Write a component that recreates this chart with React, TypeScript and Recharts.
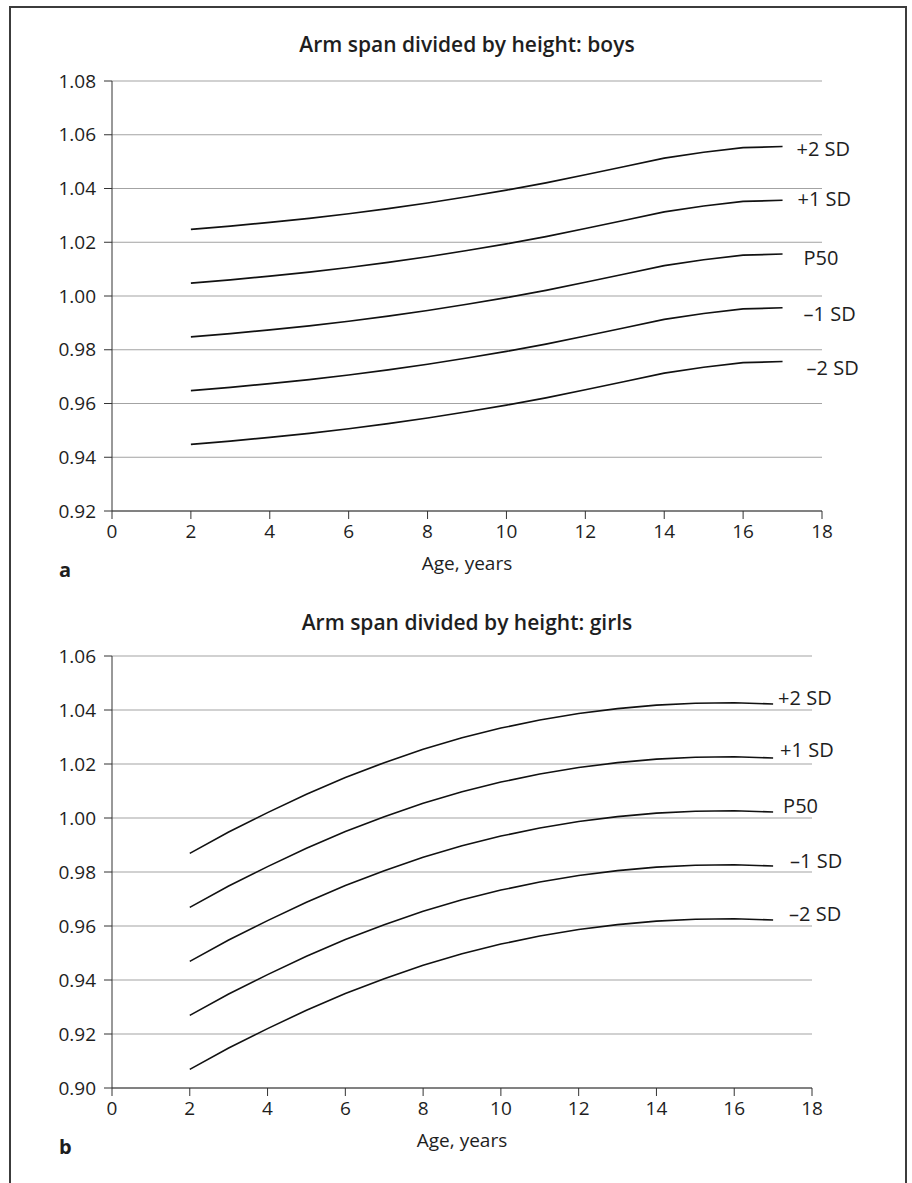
import React from 'react';
import { LineChart, Line, XAxis, YAxis, CartesianGrid } from 'recharts';

const ages = [2, 3, 4, 5, 6, 7, 8, 9, 10, 11, 12, 13, 14, 15, 16, 17];
const xTicks = [0, 2, 4, 6, 8, 10, 12, 14, 16, 18];
const boysYTicks = [0.92, 0.94, 0.96, 0.98, 1.0, 1.02, 1.04, 1.06, 1.08];
const girlsYTicks = [0.9, 0.92, 0.94, 0.96, 0.98, 1.0, 1.02, 1.04, 1.06];
const seriesKeys = ['p2', 'p1', 'p50', 'm1', 'm2'];
const seriesLabels = ['+2 SD', '+1 SD', 'P50', '–1 SD', '–2 SD'];

const boysPlus2 = [1.0248, 1.026, 1.0274, 1.0289, 1.0306, 1.0325, 1.0346, 1.0369, 1.0394, 1.0421, 1.0451, 1.0482, 1.0513, 1.0535, 1.0552, 1.0556];
const boysPlus1 = [1.0048, 1.006, 1.0074, 1.0089, 1.0106, 1.0125, 1.0146, 1.0169, 1.0194, 1.0221, 1.0251, 1.0282, 1.0313, 1.0335, 1.0352, 1.0356];
const boysP50 = [0.9848, 0.986, 0.9874, 0.9889, 0.9906, 0.9925, 0.9946, 0.9969, 0.9994, 1.0021, 1.0051, 1.0082, 1.0113, 1.0135, 1.0152, 1.0156];
const boysMinus1 = [0.9648, 0.966, 0.9674, 0.9689, 0.9706, 0.9725, 0.9746, 0.9769, 0.9794, 0.9821, 0.9851, 0.9882, 0.9913, 0.9935, 0.9952, 0.9956];
const boysMinus2 = [0.9448, 0.946, 0.9474, 0.9489, 0.9506, 0.9525, 0.9546, 0.9569, 0.9594, 0.9621, 0.9651, 0.9682, 0.9713, 0.9735, 0.9752, 0.9756];

const girlsPlus2 = [0.9869, 0.9948, 1.002, 1.0088, 1.015, 1.0205, 1.0255, 1.0297, 1.0333, 1.0363, 1.0387, 1.0405, 1.0418, 1.0425, 1.0427, 1.0422];
const girlsPlus1 = [0.9669, 0.9748, 0.982, 0.9888, 0.995, 1.0005, 1.0055, 1.0097, 1.0133, 1.0163, 1.0187, 1.0205, 1.0218, 1.0225, 1.0227, 1.0222];
const girlsP50 = [0.9469, 0.9548, 0.962, 0.9688, 0.975, 0.9805, 0.9855, 0.9897, 0.9933, 0.9963, 0.9987, 1.0005, 1.0018, 1.0025, 1.0027, 1.0022];
const girlsMinus1 = [0.9269, 0.9348, 0.942, 0.9488, 0.955, 0.9605, 0.9655, 0.9697, 0.9733, 0.9763, 0.9787, 0.9805, 0.9818, 0.9825, 0.9827, 0.9822];
const girlsMinus2 = [0.9069, 0.9148, 0.922, 0.9288, 0.935, 0.9405, 0.9455, 0.9497, 0.9533, 0.9563, 0.9587, 0.9605, 0.9618, 0.9625, 0.9627, 0.9622];

const buildData = (cols: number[][]) =>
  ages.map((age, i) => {
    const row: Record<string, number> = { age };
    seriesKeys.forEach((k, j) => {
      row[k] = cols[j][i];
    });
    return row;
  });

const boysData = buildData([boysPlus2, boysPlus1, boysP50, boysMinus1, boysMinus2]);
const girlsData = buildData([girlsPlus2, girlsPlus1, girlsP50, girlsMinus1, girlsMinus2]);

const FONT = "'Open Sans', 'Noto Sans', sans-serif";
const TEXT = '#1e1e1e';
const TICK_SIZE = 19;

const boysLabelOffsets = [[14, 2], [15, -1.5], [21, 3], [21, 5.7], [24, 6]];
const girlsLabelOffsets = [[5, -6.6], [7, -9], [10, -7], [17, -6], [16, -7]];

const makeEndLabel = (text: string, dx: number, dy: number) => (props: any) => {
  const { x, y, index } = props;
  if (index !== ages.length - 1) return <g />;
  return (
    <text x={x + dx} y={y + dy} fill={TEXT} fontSize={20} fontFamily={FONT} textAnchor="start" dominantBaseline="central">
      {text}
    </text>
  );
};

type PanelProps = {
  data: Record<string, number>[];
  top: number;
  height: number;
  margin: { top: number; right: number; bottom: number; left: number };
  yDomain: [number, number];
  yTicks: number[];
  offsets: number[][];
};

const Panel = ({ data, top, height, margin, yDomain, yTicks, offsets }: PanelProps) => (
  <div style={{ position: 'absolute', left: 0, top, width: 912, height }}>
    <LineChart width={912} height={height} data={data} margin={margin}>
      <CartesianGrid horizontal vertical={false} stroke="#a3a3a3" strokeWidth={1} />
      <XAxis
        dataKey="age"
        type="number"
        domain={[0, 18]}
        ticks={xTicks}
        interval={0}
        height={30}
        tickSize={8}
        tickMargin={6}
        axisLine={{ stroke: '#333' }}
        tickLine={{ stroke: '#333' }}
        tick={{ fill: TEXT, fontSize: TICK_SIZE, fontFamily: FONT }}
        label={{ value: 'Age, years', position: 'bottom', offset: 16, fill: TEXT, fontSize: TICK_SIZE, fontFamily: FONT }}
      />
      <YAxis
        type="number"
        domain={yDomain}
        ticks={yTicks}
        interval={0}
        width={60}
        tickSize={8}
        tickMargin={8}
        allowDataOverflow
        axisLine={{ stroke: '#333' }}
        tickLine={{ stroke: '#333' }}
        tick={{ fill: TEXT, fontSize: TICK_SIZE, fontFamily: FONT }}
        tickFormatter={(v: number) => v.toFixed(2)}
      />
      {seriesKeys.map((k, j) => (
        <Line
          key={k}
          dataKey={k}
          type="linear"
          stroke="#111"
          strokeWidth={1.6}
          dot={false}
          activeDot={false}
          isAnimationActive={false}
          label={makeEndLabel(seriesLabels[j], offsets[j][0], offsets[j][1])}
        />
      ))}
    </LineChart>
  </div>
);

const titleStyle = (top: number): React.CSSProperties => ({
  position: 'absolute',
  left: 0,
  width: 934,
  top,
  textAlign: 'center',
  fontFamily: FONT,
  fontWeight: 600,
  fontSize: 21,
  color: TEXT,
  lineHeight: '26px',
});

const letterStyle = (top: number): React.CSSProperties => ({
  position: 'absolute',
  left: 59,
  top,
  fontFamily: FONT,
  fontWeight: 700,
  fontSize: 20,
  color: TEXT,
  lineHeight: '24px',
});

export default function App() {
  return (
    <div style={{ position: 'absolute', left: 0, top: 0, width: 912, height: 1183, background: '#fff', overflow: 'hidden' }}>
      <div
        style={{
          position: 'absolute',
          left: 9,
          top: 6,
          width: 894,
          height: 1250,
          borderTop: '2px solid #3c3c3c',
          borderLeft: '2px solid #3c3c3c',
          borderRight: '2px solid #3c3c3c',
        }}
      />
      <div style={titleStyle(31)}>Arm span divided by height: boys</div>
      <Panel
        data={boysData}
        top={0}
        height={590}
        margin={{ top: 81, right: 90, bottom: 49, left: 52 }}
        yDomain={[0.92, 1.08]}
        yTicks={boysYTicks}
        offsets={boysLabelOffsets}
      />
      <div style={letterStyle(558)}>a</div>
      <div style={titleStyle(609)}>Arm span divided by height: girls</div>
      <Panel
        data={girlsData}
        top={590}
        height={590}
        margin={{ top: 66, right: 100, bottom: 62, left: 52 }}
        yDomain={[0.9, 1.06]}
        yTicks={girlsYTicks}
        offsets={girlsLabelOffsets}
      />
      <div style={letterStyle(1135)}>b</div>
    </div>
  );
}
